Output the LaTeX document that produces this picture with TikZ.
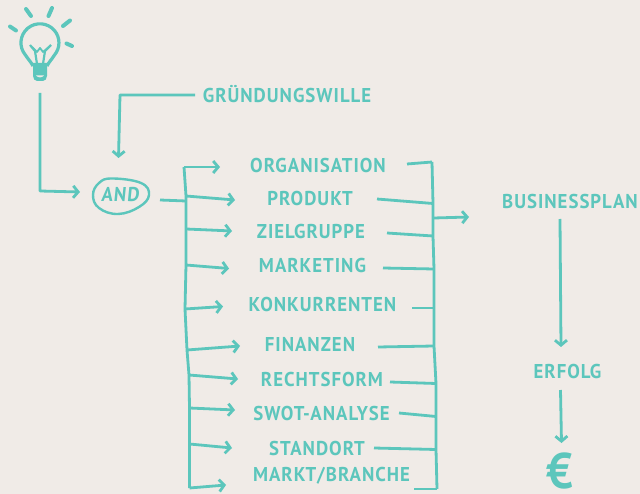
\documentclass[tikz,border=0pt]{standalone}
\usepackage{fontspec}
\setmainfont{PT Sans}[FakeStretch=0.94,LetterSpace=5]
\newfontfamily\slantfont{PT Sans}[FakeStretch=0.94,LetterSpace=5,FakeSlant=0.1]
\usetikzlibrary{arrows.meta}
\definecolor{paper}{HTML}{F0EBE7}
\definecolor{mint}{HTML}{5CC6BC}
\tikzset{
  stroke/.style={draw=mint, line width=2.8pt, line join=round},
  arrow/.style={stroke, -{Straight Barb[length=5pt,width=12pt,line width=2.8pt]}},
  word/.style={text=mint, inner sep=0pt, font=\fontsize{20}{20}\selectfont\bfseries},
  ray/.style={draw=mint, line width=4pt, line cap=round},
}
\begin{document}
\begin{tikzpicture}[x=1pt, y=-1pt]
\useasboundingbox[fill=paper] (0,0) rectangle (640,494);
% bulb
\draw[stroke, line width=3.2pt] (33,66) .. controls (31,62) and (28,59) .. (25.4,55) arc[start angle=140, end angle=400, radius=19] .. controls (52,59) and (49,62) .. (47,66);
\fill[mint] (33,63) -- (47,63) -- (47,76) .. controls (47,79) and (45,81) .. (43,81) -- (37,81) .. controls (35,81) and (33,79) .. (33,76) -- cycle;
\fill[paper] (36,75.5) .. controls (38,78) and (42,78) .. (44,75.5) -- cycle;
\draw[draw=mint, line width=2.2pt, line join=round] (30,45) -- (35,51) -- (37,64);
\draw[draw=mint, line width=2.2pt, line join=round] (51,45) -- (45,51) -- (43,64);
\draw[draw=mint, line width=1.8pt, line join=round] (32,47) -- (37,52) -- (40,48) -- (43,52) -- (49,47);
\draw[ray] (26,9) -- (31,16);
\draw[ray] (52,8) -- (48.5,16);
\draw[ray] (70,20.5) -- (63,26);
\draw[ray] (66.5,43.5) -- (72,46);
\draw[ray] (10,26.5) -- (16,30.5);
% labels
\node[word] at (287,94) (wille) {GRÜNDUNGSWILLE};
\node[word, font=\fontsize{20}{20}\slantfont\bfseries] at (120,195) (andtext) {AND};
\draw[draw=mint, line width=2.4pt] plot[smooth cycle, tension=0.7] coordinates {(112,178.5) (141,183) (149,195) (139,207) (118,214) (99,208) (93,195) (99,183)};
\node[word] at (318,166) (organisation) {ORGANISATION};
\node[word] at (310,199) (produkt) {PRODUKT};
\node[word] at (311,232) (zielgruppe) {ZIELGRUPPE};
\node[word] at (312.5,266) (marketing) {MARKETING};
\node[word] at (322.5,305) (konkurrenten) {KONKURRENTEN};
\node[word] at (310,345) (finanzen) {FINANZEN};
\node[word] at (322,379) (rechtsform) {RECHTSFORM};
\node[word] at (321.5,413) (swot) {SWOT-ANALYSE};
\node[word] at (317,448) (standort) {STANDORT};
\node[word] at (331.5,476) (markt) {MARKT/BRANCHE};
\node[word] at (570,202) (plan) {BUSINESSPLAN};
\node[word] at (567.5,371) (erfolg) {ERFOLG};
\node[text=mint, inner sep=0pt, font=\fontsize{50}{50}\selectfont\bfseries] at (560,471) (euro) {€};
% ends of the connectors
\coordinate (bulbfoot) at (40,93);
\coordinate (bulbknee) at (40,191);
\coordinate (andin) at (80,192);
\coordinate (willeout) at (195,95);
\coordinate (willeknee) at (120,95);
\coordinate (andtop) at (118.5,158);
\coordinate (andout) at (160,200);
\coordinate (la) at (184,167);
\coordinate (lb) at (186,196);
\coordinate (lin) at (186,201);
\coordinate (lc) at (186,229);
\coordinate (ld) at (186,265);
\coordinate (le) at (185,309);
\coordinate (lf) at (187,350);
\coordinate (lg) at (189,375);
\coordinate (lh) at (189.5,408);
\coordinate (li) at (189.5,444);
\coordinate (lj) at (189.5,488);
\coordinate (ra) at (432,162);
\coordinate (rb) at (433,203.5);
\coordinate (rout) at (434,218);
\coordinate (rc) at (433,236);
\coordinate (rd) at (434,269);
\coordinate (re) at (434,308);
\coordinate (rf) at (434,346);
\coordinate (rg) at (436,383.5);
\coordinate (rh) at (436,416.5);
\coordinate (ri) at (436,449.5);
\coordinate (rj) at (437,489);
\coordinate (ta) at (220,167);
\coordinate (tb) at (235,200);
\coordinate (tc) at (232,231);
\coordinate (td) at (229,268.5);
\coordinate (te) at (223,306.5);
\coordinate (tf) at (240,346);
\coordinate (tg) at (238,379);
\coordinate (th) at (235,410);
\coordinate (ti) at (232,448);
\coordinate (tj) at (226,485);
\coordinate (sa) at (407,164);
\coordinate (sb) at (377,199);
\coordinate (sc) at (387,233);
\coordinate (sd) at (383,268);
\coordinate (se) at (412,308);
\coordinate (sf) at (378,347);
\coordinate (sg) at (390,382);
\coordinate (sh) at (399,413);
\coordinate (si) at (374,448);
\coordinate (sj) at (414,489);
\coordinate (planin) at (469,217);
\coordinate (planout) at (560,219);
\coordinate (erfolgin) at (561,347);
\coordinate (erfolgout) at (560.5,390);
\coordinate (euroin) at (561.5,443);
% connectors
\draw[arrow] (bulbfoot) -- (bulbknee) -- (andin);
\draw[arrow] (willeout) -- (willeknee) -- (andtop);
\draw[stroke] (andout) -- (lin);
\draw[stroke] (la) -- (lb) -- (lc) -- (ld) -- (le) -- (lf) -- (lg) -- (lh) -- (li) -- (lj);
\draw[stroke] (ra) -- (rb) -- (rc) -- (rd) -- (re) -- (rf) -- (rg) -- (rh) -- (ri) -- (rj);
\draw[arrow] (la) -- (ta);
\draw[arrow] (lb) -- (tb);
\draw[arrow] (lc) -- (tc);
\draw[arrow] (ld) -- (td);
\draw[arrow] (le) -- (te);
\draw[arrow] (lf) -- (tf);
\draw[arrow] (lg) -- (tg);
\draw[arrow] (lh) -- (th);
\draw[arrow] (li) -- (ti);
\draw[arrow] (lj) -- (tj);
\draw[stroke] (sa) -- (ra);
\draw[stroke] (sb) -- (rb);
\draw[stroke] (sc) -- (rc);
\draw[stroke] (sd) -- (rd);
\draw[stroke] (se) -- (re);
\draw[stroke] (sf) -- (rf);
\draw[stroke] (sg) -- (rg);
\draw[stroke] (sh) -- (rh);
\draw[stroke] (si) -- (ri);
\draw[stroke] (sj) -- (rj);
\draw[arrow] (rout) -- (planin);
\draw[arrow] (planout) -- (erfolgin);
\draw[arrow] (erfolgout) -- (euroin);
\end{tikzpicture}
\end{document}
